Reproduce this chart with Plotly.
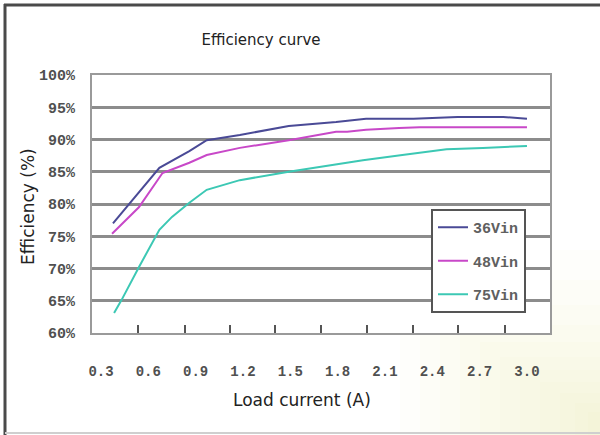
import plotly.graph_objects as go

# ---- data ----
series_names = ["36Vin", "48Vin", "75Vin"]

load_36 = [0.376, 0.54, 0.67, 0.86, 0.97, 1.18, 1.49, 1.79, 1.98, 2.28, 2.56, 2.85, 3.0]
eff_36 = [77.0, 81.7, 85.6, 88.2, 89.9, 90.7, 92.1, 92.7, 93.2, 93.2, 93.5, 93.5, 93.2]

load_48 = [0.37, 0.54, 0.69, 0.86, 0.97, 1.18, 1.49, 1.79, 1.86, 1.98, 2.19, 2.32, 3.0]
eff_48 = [75.4, 79.5, 84.8, 86.4, 87.6, 88.7, 89.9, 91.2, 91.2, 91.5, 91.8, 91.9, 91.9]

load_75 = [0.383, 0.43, 0.54, 0.67, 0.75, 0.86, 0.97, 1.18, 1.49, 1.75, 1.96, 2.21, 2.49, 2.72, 3.0]
eff_75 = [63.1, 65.1, 70.2, 76.0, 78.0, 80.2, 82.2, 83.7, 85.0, 86.0, 86.8, 87.6, 88.5, 88.7, 89.0]

x_tick_vals = [0.3, 0.6, 0.9, 1.2, 1.5, 1.8, 2.1, 2.4, 2.7, 3.0]
x_tick_text = ["0.3", "0.6", "0.9", "1.2", "1.5", "1.8", "2.1", "2.4", "2.7", "3.0"]
x_mark_vals = [0.537, 0.83, 1.115, 1.405, 1.697, 1.987, 2.28, 2.566, 2.858]
y_tick_vals = [60, 65, 70, 75, 80, 85, 90, 95, 100]
y_tick_text = ["60%", "65%", "70%", "75%", "80%", "85%", "90%", "95%", "100%"]

colors = ["#4a4a96", "#c848c8", "#3cc8b4"]

# ---- layout geometry (pixels) ----
W, H = 600, 435
PL, PR, PT, PB = 92, 550, 75, 333


def px(x):
    return (x - PL) / (PR - PL)


def py(y):
    return (PB - y) / (PB - PT)


fig = go.Figure()
for name, xs, ys, c in zip(series_names, [load_36, load_48, load_75],
                           [eff_36, eff_48, eff_75], colors):
    fig.add_trace(go.Scatter(x=xs, y=ys, mode="lines", name=name,
                             legendgroup=name,
                             line=dict(color=c, width=2)))

shapes = []
# soft yellow-green tint toward the bottom-right corner (styling only)
tint_corners = [(400, 250), (420, 280), (440, 305), (460, 325), (480, 342),
                (500, 357), (520, 370), (540, 382), (560, 393), (575, 403), (588, 412)]
for x0, y0 in tint_corners:
    shapes.append(dict(type="rect", xref="paper", yref="paper",
                       x0=px(x0), x1=px(W + 5), y0=py(H + 5), y1=py(y0),
                       fillcolor="#e2eab6", opacity=0.05, line=dict(width=0), layer="below"))
# white plot area
shapes.append(dict(type="rect", xref="paper", yref="paper", x0=0, x1=1, y0=0, y1=1,
                   fillcolor="white", line=dict(width=0), layer="below"))
# outer frame
shapes.append(dict(type="line", xref="paper", yref="paper",
                   x0=px(5), x1=px(5), y0=py(4), y1=py(435), line=dict(color="#4a4a4a", width=3)))
shapes.append(dict(type="line", xref="paper", yref="paper",
                   x0=px(4), x1=px(600), y0=py(5), y1=py(5), line=dict(color="#4a4a4a", width=3)))
shapes.append(dict(type="line", xref="paper", yref="paper",
                   x0=px(5), x1=px(600), y0=py(433), y1=py(433), line=dict(color="#cfcfcf", width=2)))

fig.update_layout(
    width=W, height=H,
    margin=dict(l=PL, r=W - PR, t=PT, b=H - PB),
    paper_bgcolor="white", plot_bgcolor="white",
    shapes=shapes,
    title=dict(text="Efficiency curve", xref="paper", x=px(261), xanchor="center",
               yref="container", y=1 - 40 / H, yanchor="middle",
               font=dict(family="DejaVu Sans", size=15, color="#222222")),
    showlegend=True,
    legend=dict(x=px(431), y=py(209), xanchor="left", yanchor="top",
                bgcolor="white", bordercolor="#555555", borderwidth=2,
                traceorder="grouped", tracegroupgap=11,
                font=dict(family="Liberation Mono", size=15, color="#606060", weight="bold")),
    annotations=[
        dict(text="Load current (A)", xref="paper", yref="paper", x=px(302), y=py(400),
             showarrow=False, xanchor="center", yanchor="middle",
             font=dict(family="DejaVu Sans", size=17, color="#222222")),
        dict(text="Efficiency (%)", xref="paper", yref="paper", x=px(28), y=py(207),
             showarrow=False, textangle=-90, xanchor="center", yanchor="middle",
             font=dict(family="DejaVu Sans", size=17, color="#222222")),
    ],
)

fig.update_xaxes(range=[0.243, 3.146], tickvals=x_tick_vals, ticktext=x_tick_text,
                 showgrid=False, zeroline=False, showline=True, mirror=True,
                 linecolor="#9a9a9a", linewidth=2, ticks="", ticklabelstandoff=24,
                 tickfont=dict(family="Liberation Mono", size=14, color="#505050", weight="bold"),
                 minor=dict(tickvals=x_mark_vals, ticks="inside", ticklen=8,
                            tickwidth=2, tickcolor="#555555", showgrid=False))
fig.update_yaxes(range=[60, 100], tickvals=y_tick_vals, ticktext=y_tick_text,
                 showgrid=True, gridcolor="#8c8c8c", gridwidth=2.5, zeroline=False,
                 showline=True, mirror=True, linecolor="#9a9a9a", linewidth=2,
                 ticks="", ticklabelstandoff=12,
                 tickfont=dict(family="Liberation Mono", size=15, color="#505050", weight="bold"))

fig.write_html("out.html", config={"displayModeBar": False},
               post_script="document.body.style.margin='0';")
